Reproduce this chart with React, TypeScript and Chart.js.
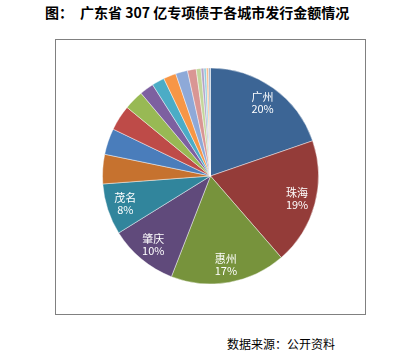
import React, { useEffect, useRef } from "react";
import { Chart, registerables } from "chart.js";

Chart.register(...registerables);

const titlePrefix = "图：";
const titleText = "广东省 307 亿专项债于各城市发行金额情况";
const sourceText = "数据来源：公开资料";

const cities = [
  "广州", "珠海", "惠州", "肇庆", "茂名", "江门", "湛江", "汕头", "揭阳", "韶关",
  "清远", "阳江", "河源", "梅州", "汕尾", "潮州", "云浮", "中山", "东莞",
];
const amounts = [
  60.5, 58, 53, 31.5, 23.5, 13.5, 12, 11.7, 9, 6.5,
  5.8, 5.8, 5.5, 4, 2.2, 1.3, 1.1, 1.0, 0.9,
];
const sliceColors = [
  "#3C6595", "#943C39", "#77933C", "#604A7B", "#31859C", "#C6722F",
  "#4A7DBB", "#BE4B48", "#98B954", "#7D60A0", "#4BACC6", "#F79646",
  "#8EA9D8", "#D99694", "#C3D69B", "#B3A2C7", "#93CDDD", "#FAC090", "#A6B7D1",
];
const labeledCount = 5;

const labelPlugin = {
  id: "sliceLabels",
  afterDatasetsDraw(chart: any) {
    const meta = chart.getDatasetMeta(0);
    const data = chart.data.datasets[0].data as number[];
    const total = data.reduce((a, b) => a + b, 0);
    const ctx = chart.ctx;
    ctx.save();
    ctx.fillStyle = "#ffffff";
    ctx.textAlign = "center";
    ctx.textBaseline = "middle";
    ctx.font = '11px "Noto Sans CJK SC", "Noto Sans", sans-serif';
    for (let i = 0; i < labeledCount; i++) {
      const arc = meta.data[i];
      const p = arc.getProps(["x", "y", "startAngle", "endAngle", "outerRadius"], true);
      const mid = (p.startAngle + p.endAngle) / 2;
      const r = p.outerRadius * 0.83;
      const px = p.x + Math.cos(mid) * r;
      const py = p.y + Math.sin(mid) * r;
      const pct = Math.round((data[i] / total) * 100) + "%";
      ctx.fillText(chart.data.labels[i], px, py - 6);
      ctx.fillText(pct, px, py + 6);
    }
    ctx.restore();
  },
};

export default function App() {
  const canvasRef = useRef<HTMLCanvasElement | null>(null);

  useEffect(() => {
    if (!canvasRef.current) return;
    const chart = new Chart(canvasRef.current, {
      type: "pie",
      data: {
        labels: cities,
        datasets: [
          {
            data: amounts,
            backgroundColor: sliceColors,
            borderColor: "rgba(255,255,255,0.55)",
            borderWidth: 0.8,
            hoverOffset: 0,
            radius: 108,
          } as any,
        ],
      },
      options: {
        responsive: false,
        animation: false,
        layout: { padding: 0 },
        plugins: {
          legend: { display: false },
          tooltip: { enabled: false },
          title: { display: false },
        },
      },
      plugins: [labelPlugin],
    });
    return () => chart.destroy();
  }, []);

  return (
    <div
      style={{
        position: "absolute",
        left: 0,
        top: 0,
        width: 409,
        height: 355,
        background: "#ffffff",
        fontFamily: '"Noto Sans CJK SC", sans-serif',
        color: "#000",
      }}
    >
      <div
        style={{
          position: "absolute",
          left: 45,
          top: 2,
          fontSize: 14,
          lineHeight: "20px",
          fontWeight: "bold",
          whiteSpace: "nowrap",
        }}
      >
        {titlePrefix}
      </div>
      <div
        style={{
          position: "absolute",
          left: 80,
          top: 2,
          fontSize: 14,
          lineHeight: "20px",
          fontWeight: "bold",
          whiteSpace: "nowrap",
        }}
      >
        {titleText}
      </div>
      <div
        style={{
          position: "absolute",
          left: 55,
          top: 39,
          width: 311,
          height: 276,
          boxSizing: "border-box",
          border: "1px solid #808080",
        }}
      />
      <canvas
        ref={canvasRef}
        width={221}
        height={220}
        style={{ position: "absolute", left: 100, top: 66, width: 221, height: 220 }}
      />
      <div
        style={{
          position: "absolute",
          left: 227,
          top: 335,
          fontSize: 12,
          lineHeight: "17px",
          whiteSpace: "nowrap",
        }}
      >
        {sourceText}
      </div>
    </div>
  );
}
